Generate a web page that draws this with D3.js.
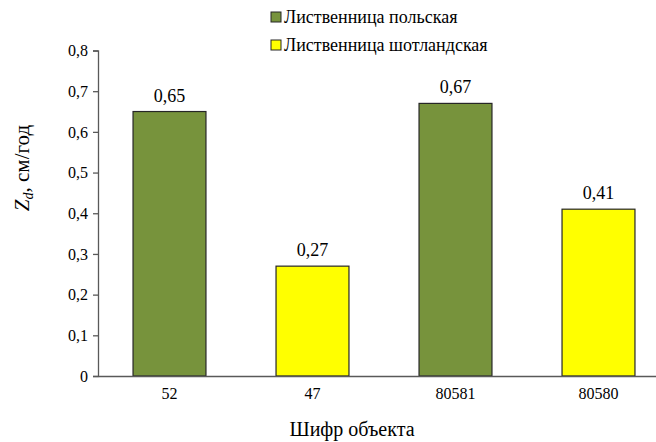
<!DOCTYPE html>
<html>
<head>
<meta charset="utf-8">
<script src="https://cdn.jsdelivr.net/npm/d3@7"></script>
</head>
<body style="margin:0;background:#fff">
<svg id="chart" width="656" height="442"></svg>
<script>
// Object codes (x axis) and annual growth values
const categories = ["52", "47", "80581", "80580"];
const values = [0.65, 0.27, 0.67, 0.41];
const speciesOf = ["Лиственница польская", "Лиственница шотландская", "Лиственница польская", "Лиственница шотландская"];
const seriesNames = ["Лиственница польская", "Лиственница шотландская"];
const seriesColors = ["#77933C", "#FFFF00"];
const yTicks = [0, 0.1, 0.2, 0.3, 0.4, 0.5, 0.6, 0.7, 0.8];

const FONT = "'Liberation Serif'";
const svg = d3.select("#chart");
const plotLeft = 98, plotRight = 670, plotTop = 50.5, plotBottom = 376;

const x = d3.scaleBand().domain(categories).range([plotLeft, plotRight]).paddingInner(0.49).paddingOuter(0.245);
const y = d3.scaleLinear().domain([0, 0.8]).range([plotBottom, plotTop]);
const color = d3.scaleOrdinal().domain(seriesNames).range(seriesColors);
const fmt = v => String(v).replace(".", ",");

// Bars
svg.append("g").selectAll("rect").data(values).join("rect")
  .attr("x", (d, i) => x(categories[i]))
  .attr("width", x.bandwidth())
  .attr("y", d => y(d))
  .attr("height", d => y(0) - y(d))
  .attr("fill", (d, i) => color(speciesOf[i]))
  .attr("stroke", "#262626")
  .attr("stroke-width", 1.2);

// Value labels
svg.append("g").selectAll("text").data(values).join("text")
  .attr("x", (d, i) => x(categories[i]) + x.bandwidth() / 2)
  .attr("y", d => y(d) - 10)
  .attr("text-anchor", "middle")
  .style("font-family", FONT)
  .style("font-size", "18px")
  .attr("fill", "#000")
  .text(fmt);

// Y axis
const yAxis = svg.append("g")
  .attr("transform", `translate(${plotLeft},0)`)
  .call(d3.axisLeft(y).tickValues(yTicks).tickSize(5).tickPadding(5).tickFormat(fmt));
yAxis.attr("font-family", null);
yAxis.select(".domain").attr("stroke", "#595959").attr("stroke-width", 1.3);
yAxis.selectAll(".tick line").attr("stroke", "#595959").attr("stroke-width", 1.3);
yAxis.selectAll(".tick text").attr("fill", "#000")
  .style("font-family", FONT).style("font-size", "16px");

// X axis
const xAxis = svg.append("g")
  .attr("transform", `translate(0,${plotBottom})`)
  .call(d3.axisBottom(x).tickSize(0).tickPadding(12));
xAxis.attr("font-family", null);
xAxis.select(".domain").attr("stroke", "#595959").attr("stroke-width", 1.3);
xAxis.selectAll(".tick text").attr("fill", "#000")
  .style("font-family", FONT).style("font-size", "16px");

// Axis titles
svg.append("text")
  .attr("x", 352).attr("y", 436)
  .attr("text-anchor", "middle")
  .style("font-family", FONT).style("font-size", "20px")
  .text("Шифр объекта");

const yt = svg.append("text")
  .attr("transform", "translate(29,168) rotate(-90)")
  .attr("text-anchor", "middle")
  .style("font-family", FONT).style("font-size", "21px");
yt.append("tspan").style("font-style", "italic").text("Z");
yt.append("tspan").style("font-style", "italic").style("font-size", "14px").attr("dy", 4).text("d");
yt.append("tspan").attr("dy", -4).text(", см/год");

// Legend
const legend = svg.append("g").selectAll("g").data(seriesNames).join("g")
  .attr("transform", (d, i) => `translate(271,${12 + i * 28})`);
legend.append("rect")
  .attr("width", 10).attr("height", 10)
  .attr("fill", d => color(d))
  .attr("stroke", "#262626").attr("stroke-width", 1);
legend.append("text")
  .attr("x", 13).attr("y", 11)
  .style("font-family", FONT).style("font-size", "18px")
  .text(d => d);
</script>
</body>
</html>
